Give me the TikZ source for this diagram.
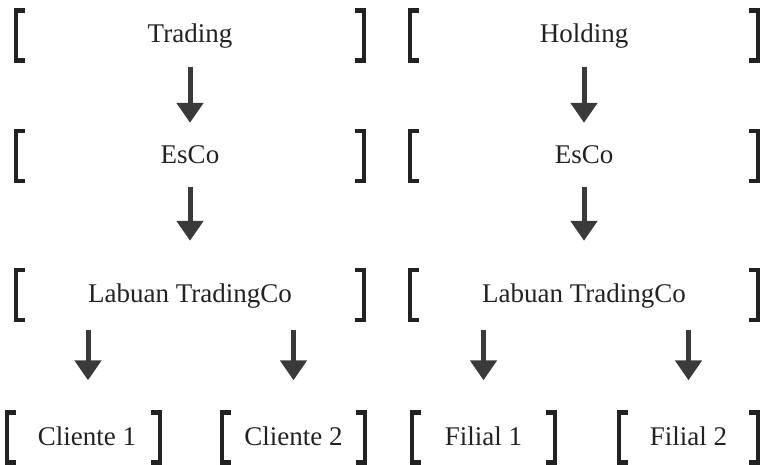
\documentclass[tikz,border=0pt]{standalone}
\usepackage{fontspec}
\setmainfont{Liberation Serif}
\usetikzlibrary{arrows.meta}
\definecolor{ink}{HTML}{222222}
\definecolor{arrowgray}{HTML}{3A3A3A}
\tikzset{
  box/.style={draw=none, inner sep=0pt, minimum height=54pt, text=ink,
    text height=19pt, text depth=4pt,
    font=\fontsize{27}{30}\selectfont},
  brk/.style={draw=ink, line width=4.3pt, line cap=butt, line join=miter},
  arr/.style={draw=arrowgray, line width=5pt,
    -{Triangle[width=26pt,length=20pt]}},
}
\newcommand{\brackets}[1]{%
  \draw[brk] ([xshift=11pt,yshift=-2.15pt]#1.north west) -- ([xshift=2.15pt,yshift=-2.15pt]#1.north west)
    -- ([xshift=2.15pt,yshift=2.15pt]#1.south west) -- ([xshift=11pt,yshift=2.15pt]#1.south west);
  \draw[brk] ([xshift=-11pt,yshift=-2.15pt]#1.north east) -- ([xshift=-2.15pt,yshift=-2.15pt]#1.north east)
    -- ([xshift=-2.15pt,yshift=2.15pt]#1.south east) -- ([xshift=-11pt,yshift=2.15pt]#1.south east);
}
\begin{document}
\begin{tikzpicture}[x=1pt,y=-1pt]
\useasboundingbox (0,0) rectangle (767,465);
% left column
\node[box, minimum width=352pt] (t1) at (190,35.5) {Trading};
\node[box, minimum width=352pt] (e1) at (190,156) {EsCo};
\node[box, minimum width=352pt] (l1) at (190,295) {Labuan TradingCo};
\node[box, minimum width=157pt] (c1) at (83.5,437.5) {\hspace*{7pt}Cliente 1};
\node[box, minimum width=147pt] (c2) at (293.5,437.5) {Cliente 2};
% right column
\node[box, minimum width=352pt] (h2) at (584,35.5) {Holding};
\node[box, minimum width=352pt] (e2) at (584,156) {EsCo};
\node[box, minimum width=352pt] (l2) at (584,295) {Labuan TradingCo};
\node[box, minimum width=147pt] (f1) at (483.5,437.5) {Filial 1};
\node[box, minimum width=143pt] (f2) at (688.5,437.5) {Filial 2};
\foreach \n in {t1,e1,l1,c1,c2,h2,e2,l2,f1,f2}{\brackets{\n}}
% connectors
\draw[arr, shorten <=4pt, shorten >=6pt] (t1.south) -- (e1.north);
\draw[arr, shorten <=4pt, shorten >=27pt] (e1.south) -- (l1.north);
\draw[arr, shorten <=4pt, shorten >=6pt] (h2.south) -- (e2.north);
\draw[arr, shorten <=4pt, shorten >=27pt] (e2.south) -- (l2.north);
\draw[arr, shorten <=8pt, shorten >=30pt] ([xshift=4.5pt]c1.north |- l1.south) -- ([xshift=4.5pt]c1.north);
\draw[arr, shorten <=8pt, shorten >=30pt] (c2.north |- l1.south) -- (c2.north);
\draw[arr, shorten <=8pt, shorten >=30pt] (f1.north |- l2.south) -- (f1.north);
\draw[arr, shorten <=8pt, shorten >=30pt] (f2.north |- l2.south) -- (f2.north);
\end{tikzpicture}
\end{document}
